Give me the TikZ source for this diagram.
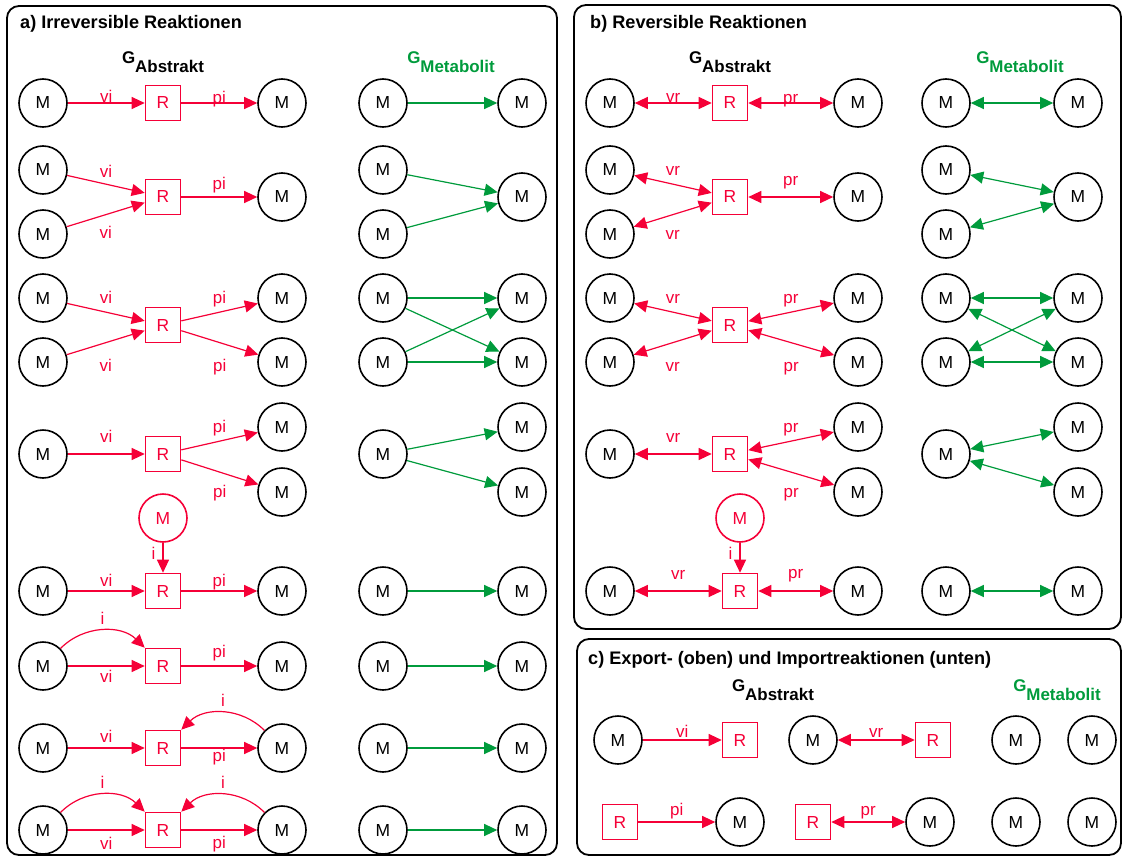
\documentclass[tikz,border=0pt]{standalone}
\usepackage{fontspec}
\setmainfont{Liberation Sans}
\usetikzlibrary{arrows.meta}
\definecolor{reacred}{RGB}{245,0,55}
\definecolor{metgreen}{RGB}{0,155,60}
\newcommand{\gname}[1]{G\raisebox{-9bp}{#1}}

\tikzset{
  met/.style={circle, draw, line width=1.6bp, minimum size=48bp, inner sep=0pt, font=\fontsize{17.5}{18}\selectfont},
  redmet/.style={met, draw=reacred, text=reacred},
  rea/.style={rectangle, draw=reacred, text=reacred, line width=1.6bp, minimum size=35bp, inner sep=0pt, font=\fontsize{17.5}{18}\selectfont},
  flow/.style={reacred, line width=1.2bp},
  mflow/.style={metgreen, line width=1.2bp},
  lab/.style={text=reacred, font=\fontsize{17}{17}\selectfont, inner sep=0pt, anchor=base},
  lift/.style={yshift=#1bp},
  head/.style={font=\bfseries\fontsize{18.2}{18}\selectfont, anchor=base west, inner sep=0pt},
  gabs/.style={font=\bfseries\fontsize{17}{17}\selectfont, anchor=base, inner sep=0pt},
  gmet/.style={gabs, text=metgreen},
  panel/.style={draw, line width=1.8bp, rounded corners=12bp}
}

\begin{document}
\begin{tikzpicture}[x=1bp, y=-1bp, >={Triangle[length=13bp,width=12bp]}]
\useasboundingbox (0,0) rectangle (1122,856);
\draw[panel] (7,6) rectangle (557,855);
\draw[panel] (574,5) rectangle (1121,629);
\draw[panel] (577,639) rectangle (1121,855);

\node[head] (ta) at (20,28) {a) Irreversible Reaktionen};
\node[gabs] (gaa) at (163,63) {\gname{Abstrakt}};
\node[gmet] (gam) at (451,63) {\gname{Metabolit}};

\node[met] (a1m) at (43,103) {M};
\node[rea] (a1r) at (163,103) {R};
\node[met] (a1p) at (282,103) {M};
\draw[flow,->] (a1m) -- node[lab,lift=1] {vi} (a1r);
\draw[flow,->] (a1r) -- node[lab,lift=0] {pi} (a1p);
\node[met] (a1x) at (383,103) {M};
\node[met] (a1y) at (522,103) {M};
\draw[mflow,->] (a1x) -- (a1y);

\node[met] (a2m1) at (43,170) {M};
\node[met] (a2m2) at (43,234) {M};
\node[rea] (a2r) at (163,197) {R};
\node[met] (a2p) at (282,197) {M};
\draw[flow,->] (a2m1) -- node[lab,lift=7] {vi} (a2r);
\draw[flow,->] (a2m2) -- node[lab,lift=-24] {vi} (a2r);
\draw[flow,->] (a2r) -- node[lab,lift=8] {pi} (a2p);
\node[met] (a2x1) at (383,170) {M};
\node[met] (a2x2) at (383,234) {M};
\node[met] (a2y) at (522,197) {M};
\draw[mflow,->] (a2x1) -- (a2y);
\draw[mflow,->] (a2x2) -- (a2y);

\node[met] (a3m1) at (43,298) {M};
\node[met] (a3m2) at (43,362) {M};
\node[rea] (a3r) at (163,325) {R};
\node[met] (a3p1) at (282,298) {M};
\node[met] (a3p2) at (282,362) {M};
\draw[flow,->] (a3m1) -- node[lab,lift=9] {vi} (a3r);
\draw[flow,->] (a3m2) -- node[lab,lift=-29] {vi} (a3r);
\draw[flow,->] (a3r) -- node[lab,lift=9] {pi} (a3p1);
\draw[flow,->] (a3r) -- node[lab,lift=-29] {pi} (a3p2);
\node[met] (a3x1) at (383,298) {M};
\node[met] (a3x2) at (383,362) {M};
\node[met] (a3y1) at (522,298) {M};
\node[met] (a3y2) at (522,362) {M};
\draw[mflow,->] (a3x1) -- (a3y1);
\draw[mflow,->] (a3x1) -- (a3y2);
\draw[mflow,->] (a3x2) -- (a3y1);
\draw[mflow,->] (a3x2) -- (a3y2);

\node[met] (a4m) at (43,454) {M};
\node[rea] (a4r) at (163,454) {R};
\node[met] (a4p1) at (282,427) {M};
\node[met] (a4p2) at (282,492) {M};
\draw[flow,->] (a4m) -- node[lab,lift=12] {vi} (a4r);
\draw[flow,->] (a4r) -- node[lab,lift=9] {pi} (a4p1);
\draw[flow,->] (a4r) -- node[lab,lift=-25] {pi} (a4p2);
\node[met] (a4x) at (383,454) {M};
\node[met] (a4y1) at (522,427) {M};
\node[met] (a4y2) at (522,492) {M};
\draw[mflow,->] (a4x) -- (a4y1);
\draw[mflow,->] (a4x) -- (a4y2);

\node[redmet] (a5i) at (163,518) {M};
\node[met] (a5m) at (43,591) {M};
\node[rea] (a5r) at (163,591) {R};
\node[met] (a5p) at (282,591) {M};
\draw[flow,->] (a5i) -- node[lab,anchor=base east,xshift=-7bp,lift=-2] {i} (a5r);
\draw[flow,->] (a5m) -- node[lab,lift=5] {vi} (a5r);
\draw[flow,->] (a5r) -- node[lab,lift=5] {pi} (a5p);
\node[met] (a5x) at (383,591) {M};
\node[met] (a5y) at (522,591) {M};
\draw[mflow,->] (a5x) -- (a5y);

\node[met] (a6m) at (43,666) {M};
\node[rea] (a6r) at (163,666) {R};
\node[met] (a6p) at (282,666) {M};
\draw[flow,->] (a6m.45) to[bend left=45] node[lab,lift=6] {i} (a6r.north west);
\draw[flow,->] (a6m) -- node[lab,lift=-16] {vi} (a6r);
\draw[flow,->] (a6r) -- node[lab,lift=9] {pi} (a6p);
\node[met] (a6x) at (383,666) {M};
\node[met] (a6y) at (522,666) {M};
\draw[mflow,->] (a6x) -- (a6y);

\node[met] (a7m) at (43,748) {M};
\node[rea] (a7r) at (163,748) {R};
\node[met] (a7p) at (282,748) {M};
\draw[flow,->] (a7p.135) to[bend right=45] node[lab,lift=6] {i} (a7r.north east);
\draw[flow,->] (a7m) -- node[lab,lift=6] {vi} (a7r);
\draw[flow,->] (a7r) -- node[lab,lift=-13] {pi} (a7p);
\node[met] (a7x) at (383,748) {M};
\node[met] (a7y) at (522,748) {M};
\draw[mflow,->] (a7x) -- (a7y);

\node[met] (a8m) at (43,830) {M};
\node[rea] (a8r) at (163,830) {R};
\node[met] (a8p) at (282,830) {M};
\draw[flow,->] (a8m.45) to[bend left=45] node[lab,lift=6] {i} (a8r.north west);
\draw[flow,->] (a8p.135) to[bend right=45] node[lab,lift=6] {i} (a8r.north east);
\draw[flow,->] (a8m) -- node[lab,lift=-19] {vi} (a8r);
\draw[flow,->] (a8r) -- node[lab,lift=-18] {pi} (a8p);
\node[met] (a8x) at (383,830) {M};
\node[met] (a8y) at (522,830) {M};
\draw[mflow,->] (a8x) -- (a8y);

\node[head] (tb) at (590,28) {b) Reversible Reaktionen};
\node[gabs] (gba) at (730,63) {\gname{Abstrakt}};
\node[gmet] (gbm) at (1020,63) {\gname{Metabolit}};

\node[met] (b1m) at (610,103) {M};
\node[rea] (b1r) at (730,103) {R};
\node[met] (b1p) at (858,103) {M};
\draw[flow,<->] (b1m) -- node[lab,lift=1] {vr} (b1r);
\draw[flow,<->] (b1r) -- node[lab,lift=0] {pr} (b1p);
\node[met] (b1x) at (946,103) {M};
\node[met] (b1y) at (1078,103) {M};
\draw[mflow,<->] (b1x) -- (b1y);

\node[met] (b2m1) at (610,170) {M};
\node[met] (b2m2) at (610,234) {M};
\node[rea] (b2r) at (730,197) {R};
\node[met] (b2p) at (858,197) {M};
\draw[flow,<->] (b2m1) -- node[lab,lift=9] {vr} (b2r);
\draw[flow,<->] (b2m2) -- node[lab,lift=-25] {vr} (b2r);
\draw[flow,<->] (b2r) -- node[lab,lift=12] {pr} (b2p);
\node[met] (b2x1) at (946,170) {M};
\node[met] (b2x2) at (946,234) {M};
\node[met] (b2y) at (1078,197) {M};
\draw[mflow,<->] (b2x1) -- (b2y);
\draw[mflow,<->] (b2x2) -- (b2y);

\node[met] (b3m1) at (610,298) {M};
\node[met] (b3m2) at (610,362) {M};
\node[rea] (b3r) at (730,325) {R};
\node[met] (b3p1) at (858,298) {M};
\node[met] (b3p2) at (858,362) {M};
\draw[flow,<->] (b3m1) -- node[lab,lift=9] {vr} (b3r);
\draw[flow,<->] (b3m2) -- node[lab,lift=-29] {vr} (b3r);
\draw[flow,<->] (b3r) -- node[lab,lift=9] {pr} (b3p1);
\draw[flow,<->] (b3r) -- node[lab,lift=-29] {pr} (b3p2);
\node[met] (b3x1) at (946,298) {M};
\node[met] (b3x2) at (946,362) {M};
\node[met] (b3y1) at (1078,298) {M};
\node[met] (b3y2) at (1078,362) {M};
\draw[mflow,<->] (b3x1) -- (b3y1);
\draw[mflow,<->] (b3x1) -- (b3y2);
\draw[mflow,<->] (b3x2) -- (b3y1);
\draw[mflow,<->] (b3x2) -- (b3y2);

\node[met] (b4m) at (610,454) {M};
\node[rea] (b4r) at (730,454) {R};
\node[met] (b4p1) at (858,427) {M};
\node[met] (b4p2) at (858,492) {M};
\draw[flow,<->] (b4m) -- node[lab,lift=12] {vr} (b4r);
\draw[flow,<->] (b4r) -- node[lab,lift=9] {pr} (b4p1);
\draw[flow,<->] (b4r) -- node[lab,lift=-25] {pr} (b4p2);
\node[met] (b4x) at (946,454) {M};
\node[met] (b4y1) at (1078,427) {M};
\node[met] (b4y2) at (1078,492) {M};
\draw[mflow,<->] (b4x) -- (b4y1);
\draw[mflow,<->] (b4x) -- (b4y2);

\node[redmet] (b5i) at (740,518) {M};
\node[met] (b5m) at (610,591) {M};
\node[rea] (b5r) at (740,591) {R};
\node[met] (b5p) at (858,591) {M};
\draw[flow,->] (b5i) -- node[lab,anchor=base east,xshift=-7bp,lift=-2] {i} (b5r);
\draw[flow,<->] (b5m) -- node[lab,lift=12] {vr} (b5r);
\draw[flow,<->] (b5r) -- node[lab,lift=13] {pr} (b5p);
\node[met] (b5x) at (946,591) {M};
\node[met] (b5y) at (1078,591) {M};
\draw[mflow,<->] (b5x) -- (b5y);

\node[head] (tc) at (588,664) {c) Export- (oben) und Importreaktionen (unten)};
\node[gabs] (gca) at (773,691) {\gname{Abstrakt}};
\node[gmet] (gcm) at (1057,691) {\gname{Metabolit}};

\node[met] (c1m) at (618,740) {M};
\node[rea] (c1r) at (740,740) {R};
\draw[flow,->] (c1m) -- node[lab,lift=3] {vi} (c1r);
\node[met] (c2m) at (813,740) {M};
\node[rea] (c2r) at (933,740) {R};
\draw[flow,<->] (c2m) -- node[lab,lift=3] {vr} (c2r);
\node[met] (c3m) at (1016,740) {M};
\node[met] (c4m) at (1092,740) {M};

\node[rea] (c5r) at (620,822) {R};
\node[met] (c5m) at (740,822) {M};
\draw[flow,->] (c5r) -- node[lab,lift=7] {pi} (c5m);
\node[rea] (c6r) at (813,822) {R};
\node[met] (c6m) at (930,822) {M};
\draw[flow,<->] (c6r) -- node[lab,lift=7] {pr} (c6m);
\node[met] (c7m) at (1016,822) {M};
\node[met] (c8m) at (1092,822) {M};
\end{tikzpicture}
\end{document}
